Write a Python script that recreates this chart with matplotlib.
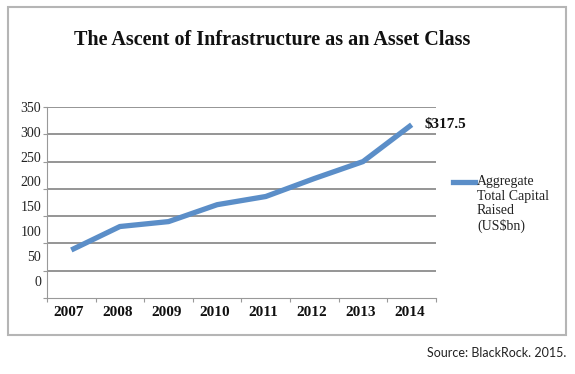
import matplotlib
import matplotlib.pyplot as plt
from matplotlib.patches import Rectangle
from matplotlib.lines import Line2D

matplotlib.use("Agg")

# data
years = ["2007", "2008", "2009", "2010", "2011", "2012", "2013", "2014"]
capital_raised = [88, 131, 140, 171, 186, 219, 250, 317.5]
y_ticks = [0, 50, 100, 150, 200, 250, 300, 350]
end_label = "$317.5"
legend_label = "Aggregate\nTotal Capital\nRaised\n(US$bn)"

serif = "Liberation Serif"
line_color = "#5b8ec8"
grid_color = "#8c8c8c"

fig = plt.figure(figsize=(5.75, 3.74), dpi=100)
ax = fig.add_axes([0.0817, 0.2032, 0.6765, 0.5107])

x = list(range(len(years)))
ax.plot(x, capital_raised, color=line_color, lw=3.8, solid_capstyle="butt")

ax.set_xlim(-0.5, len(years) - 0.5)
ax.set_ylim(0, 350)

# gridlines
for v in y_ticks[1:]:
    ax.axhline(v, color=grid_color, lw=1.3, zorder=0)

for s in ["top", "right"]:
    ax.spines[s].set_visible(False)
ax.spines["left"].set_color("#999999")
ax.spines["bottom"].set_color("#999999")
ax.spines["left"].set_linewidth(0.8)
ax.spines["bottom"].set_linewidth(0.8)

# y ticks: marks on gridlines, labels drawn a bit off as in the original
ax.set_yticks(y_ticks)
ax.set_yticklabels([])
ax.tick_params(axis="y", length=3, color="#999999", width=0.8)
for v in y_ticks:
    ax.text(-0.015, 350 - (350 - v) * 0.915 - 2, str(v), transform=ax.get_yaxis_transform(),
            ha="right", va="center", fontsize=10, family=serif, color="#222222")

# x ticks between categories, labels centred on categories
ax.set_xticks([i - 0.5 for i in range(len(years) + 1)])
ax.set_xticklabels([])
ax.tick_params(axis="x", length=3, color="#999999", width=0.8)
for i, yr in enumerate(years):
    ax.text(i - 0.05, -0.075, yr, transform=ax.get_xaxis_transform(), ha="center", va="center",
            fontsize=11, fontweight="bold", family=serif, color="#111111")

ax.text(len(years) - 1 + 0.26, capital_raised[-1], end_label, ha="left", va="center",
        fontsize=11, fontweight="bold", family=serif, color="#111111")

# title
fig.text(0.473, 0.893, "The Ascent of Infrastructure as an Asset Class", ha="center", va="center",
         fontsize=14.5, fontweight="bold", family=serif, color="#111111")

# legend
fig.add_artist(Line2D([453 / 575, 475 / 575], [1 - 181.5 / 374] * 2, color=line_color, lw=3.8,
                      transform=fig.transFigure))
fig.text(477 / 575, 1 - 175.5 / 374, legend_label, ha="left", va="top", fontsize=10,
         family=serif, color="#222222", linespacing=1.13)

# outer frame
fig.add_artist(Rectangle((8 / 575, 1 - 335 / 374), 558 / 575, 328 / 374, fill=False,
                         edgecolor="#b5b5b5", lw=1.5, transform=fig.transFigure))

fig.text(566 / 575, 1 - 353 / 374, "Source: BlackRock. 2015.", ha="right", va="center",
         fontsize=9, family="Lato", color="#222222")

fig.savefig("out.png", dpi=100, facecolor="white")
